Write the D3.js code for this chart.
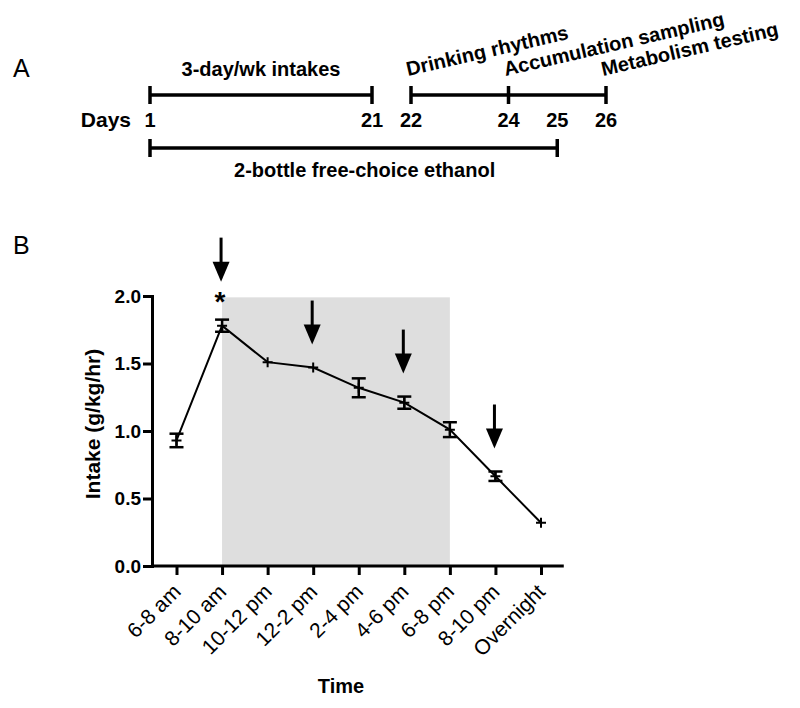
<!DOCTYPE html>
<html>
<head>
<meta charset="utf-8">
<script src="https://cdn.jsdelivr.net/npm/d3@7"></script>
<style>
  body { margin: 0; background: #fff; }
  svg text { font-family: Arial, "Liberation Sans", sans-serif; fill: #000; }
  .bold { font-weight: bold; }
</style>
</head>
<body>
<div id="chart"></div>
<script>
// ---- Panel A: experiment timeline ----
const dayTicks = [1, 21, 22, 24, 25, 26];
const topRowTicks = [1, 21, 22, 24, 26];
const bottomRowTicks = [1, 25];
const topSegments = [[1, 21], [22, 26]];
const bottomSegments = [[1, 25]];
const centeredLabels = [
  { text: '3-day/wk intakes', from: 1, to: 21, row: 'top' },
  { text: '2-bottle free-choice ethanol', from: 1, to: 25, row: 'bottom' }
];
const slantedLabels = [
  { text: 'Drinking rhythms', day: 22 },
  { text: 'Accumulation sampling', day: 24 },
  { text: 'Metabolism testing', day: 26 }
];

// ---- Panel B: intake by time of day ----
const timeBins = ['6-8 am', '8-10 am', '10-12 pm', '12-2 pm', '2-4 pm', '4-6 pm', '6-8 pm', '8-10 pm', 'Overnight'];
const intakeMean = [0.93, 1.78, 1.51, 1.47, 1.32, 1.21, 1.01, 0.665, 0.32];
const intakeSem = [0.05, 0.045, 0, 0, 0.07, 0.045, 0.055, 0.035, 0];
const yTicks = [0, 0.5, 1.0, 1.5, 2.0];
const darkPeriod = ['8-10 am', '6-8 pm']; // shaded band
const arrowBins = ['8-10 am', '12-2 pm', '4-6 pm', '8-10 pm'];
const starBins = ['8-10 am'];

const width = 800, height = 708;

const svg = d3.select('#chart')
  .append('svg')
  .attr('width', width)
  .attr('height', height);

svg.append('rect').attr('width', width).attr('height', height).attr('fill', '#fff');

// panel letters
svg.append('text').attr('x', 13).attr('y', 77).attr('font-size', 25).text('A');
svg.append('text').attr('x', 13).attr('y', 254).attr('font-size', 25).text('B');

// ---------- timeline ----------
// broken day axis: days 1-21 compressed, days 22-26 spread out
const dayScale = d3.scaleLinear()
  .domain([1, 21, 22, 26])
  .range([150, 372, 411, 606]);

const rowY = { top: 95, bottom: 148 };
const tl = svg.append('g').attr('class', 'timeline');

function drawRow(segments, ticks, y) {
  tl.selectAll(null)
    .data(segments)
    .join('line')
    .attr('x1', d => dayScale(d[0]))
    .attr('x2', d => dayScale(d[1]))
    .attr('y1', y).attr('y2', y)
    .attr('stroke', '#000').attr('stroke-width', 3.5);
  tl.selectAll(null)
    .data(ticks)
    .join('line')
    .attr('x1', d => dayScale(d)).attr('x2', d => dayScale(d))
    .attr('y1', y - 9).attr('y2', y + 9)
    .attr('stroke', '#000').attr('stroke-width', 3.5);
}
drawRow(topSegments, topRowTicks, rowY.top);
drawRow(bottomSegments, bottomRowTicks, rowY.bottom);

tl.append('text')
  .attr('class', 'bold')
  .attr('x', 131).attr('y', 127)
  .attr('text-anchor', 'end')
  .attr('font-size', 21)
  .text('Days');

tl.selectAll('.day-label')
  .data(dayTicks)
  .join('text')
  .attr('class', 'day-label bold')
  .attr('x', d => dayScale(d))
  .attr('y', 127)
  .attr('text-anchor', 'middle')
  .attr('font-size', 20)
  .text(d => d);

tl.selectAll('.phase-label')
  .data(centeredLabels)
  .join('text')
  .attr('class', 'phase-label bold')
  .attr('x', d => d.row === 'top' ? (dayScale(d.from) + dayScale(d.to)) / 2 : (dayScale(d.from) + dayScale(d.to)) / 2 + 11)
  .attr('y', d => d.row === 'top' ? rowY.top - 19 : rowY.bottom + 29)
  .attr('text-anchor', 'middle')
  .attr('font-size', 20)
  .text(d => d.text);

tl.selectAll('.slant-label')
  .data(slantedLabels)
  .join('text')
  .attr('class', 'slant-label bold')
  .attr('transform', d => `translate(${dayScale(d.day) - 3},${rowY.top - 19}) rotate(-13)`)
  .attr('font-size', 20)
  .text(d => d.text);

// ---------- intake chart ----------
const xScale = d3.scalePoint()
  .domain(timeBins)
  .range([176.5, 541]);

const yScale = d3.scaleLinear()
  .domain([0, 2])
  .range([566, 296]);

const data = timeBins.map((t, i) => ({ bin: t, mean: intakeMean[i], sem: intakeSem[i] }));

const g = svg.append('g').attr('class', 'intake');

// shaded dark period
g.append('rect')
  .attr('x', xScale(darkPeriod[0]))
  .attr('y', yScale(1.99))
  .attr('width', xScale(darkPeriod[1]) - xScale(darkPeriod[0]))
  .attr('height', yScale(0) - yScale(1.99))
  .attr('fill', '#dedede');

// axes
const yAxis = d3.axisLeft(yScale)
  .tickValues(yTicks)
  .tickFormat(d3.format('.1f'))
  .tickSize(9)
  .tickSizeOuter(0)
  .tickPadding(2);

g.append('g')
  .attr('transform', 'translate(152,0)')
  .call(yAxis)
  .call(a => a.select('.domain').attr('stroke-width', 3).attr('stroke-linecap', 'square'))
  .call(a => a.selectAll('.tick line').attr('stroke-width', 3))
  .call(a => a.selectAll('.tick text')
    .attr('font-family', 'Arial, "Liberation Sans", sans-serif')
    .attr('font-weight', 'bold')
    .attr('font-size', 19)
    .attr('fill', '#000'));

const xAxis = d3.axisBottom(xScale)
  .tickSize(9)
  .tickSizeOuter(0);

g.append('g')
  .attr('transform', 'translate(0,566)')
  .call(xAxis)
  .call(a => a.select('.domain').remove())
  .call(a => a.selectAll('.tick line').attr('stroke-width', 3))
  .call(a => a.selectAll('.tick text')
    .attr('font-family', 'Arial, "Liberation Sans", sans-serif')
    .attr('font-size', 21)
    .attr('fill', '#000')
    .attr('text-anchor', 'end')
    .attr('dy', null)
    .attr('y', 0)
    .attr('transform', 'translate(5,27) rotate(-45)'));

// x axis baseline drawn across the full band of categories
const step = xScale.step();
g.append('line')
  .attr('x1', 152)
  .attr('x2', xScale(timeBins[timeBins.length - 1]) + step / 2)
  .attr('y1', yScale(0)).attr('y2', yScale(0))
  .attr('stroke', '#000').attr('stroke-width', 3);

// axis titles
g.append('text')
  .attr('class', 'bold')
  .attr('transform', `translate(100,424) rotate(-90)`)
  .attr('text-anchor', 'middle')
  .attr('font-size', 21)
  .text('Intake (g/kg/hr)');

g.append('text')
  .attr('class', 'bold')
  .attr('x', 341).attr('y', 693)
  .attr('text-anchor', 'middle')
  .attr('font-size', 20)
  .text('Time');

// line
g.append('path')
  .datum(data)
  .attr('fill', 'none')
  .attr('stroke', '#000')
  .attr('stroke-width', 2)
  .attr('d', d3.line().x(d => xScale(d.bin)).y(d => yScale(d.mean)));

// error bars
const eb = g.selectAll('.errbar')
  .data(data.filter(d => d.sem > 0))
  .join('g')
  .attr('class', 'errbar')
  .attr('stroke', '#000')
  .attr('stroke-width', 2.5);
eb.append('line')
  .attr('x1', d => xScale(d.bin)).attr('x2', d => xScale(d.bin))
  .attr('y1', d => yScale(d.mean - d.sem)).attr('y2', d => yScale(d.mean + d.sem));
eb.append('line')
  .attr('x1', d => xScale(d.bin) - 7).attr('x2', d => xScale(d.bin) + 7)
  .attr('y1', d => yScale(d.mean + d.sem)).attr('y2', d => yScale(d.mean + d.sem));
eb.append('line')
  .attr('x1', d => xScale(d.bin) - 7).attr('x2', d => xScale(d.bin) + 7)
  .attr('y1', d => yScale(d.mean - d.sem)).attr('y2', d => yScale(d.mean - d.sem));

// plus markers
g.selectAll('.marker')
  .data(data)
  .join('path')
  .attr('class', 'marker')
  .attr('d', d => {
    const x = xScale(d.bin), y = yScale(d.mean);
    return `M${x - 5},${y}H${x + 5}M${x},${y - 5}V${y + 5}`;
  })
  .attr('stroke', '#000')
  .attr('stroke-width', 2);

// arrows above selected bins
const arrowData = data.filter(d => arrowBins.includes(d.bin));
const arrows = g.selectAll('.arrow')
  .data(arrowData)
  .join('g')
  .attr('class', 'arrow')
  .attr('transform', d => {
    const gap = starBins.includes(d.bin) ? 38 : 23;
    return `translate(${xScale(d.bin) - 1},${yScale(d.mean + d.sem) - gap})`;
  });
arrows.append('line')
  .attr('x1', 0).attr('x2', 0)
  .attr('y1', -44).attr('y2', -18)
  .attr('stroke', '#000').attr('stroke-width', 3);
arrows.append('path')
  .attr('d', 'M-8.5,-20L8.5,-20L0,0Z')
  .attr('fill', '#000');

g.selectAll('.star')
  .data(data.filter(d => starBins.includes(d.bin)))
  .join('text')
  .attr('class', 'star bold')
  .attr('x', d => xScale(d.bin) - 2)
  .attr('y', d => yScale(d.mean + d.sem) - 9)
  .attr('text-anchor', 'middle')
  .attr('font-size', 28)
  .text('*');
</script>
</body>
</html>
